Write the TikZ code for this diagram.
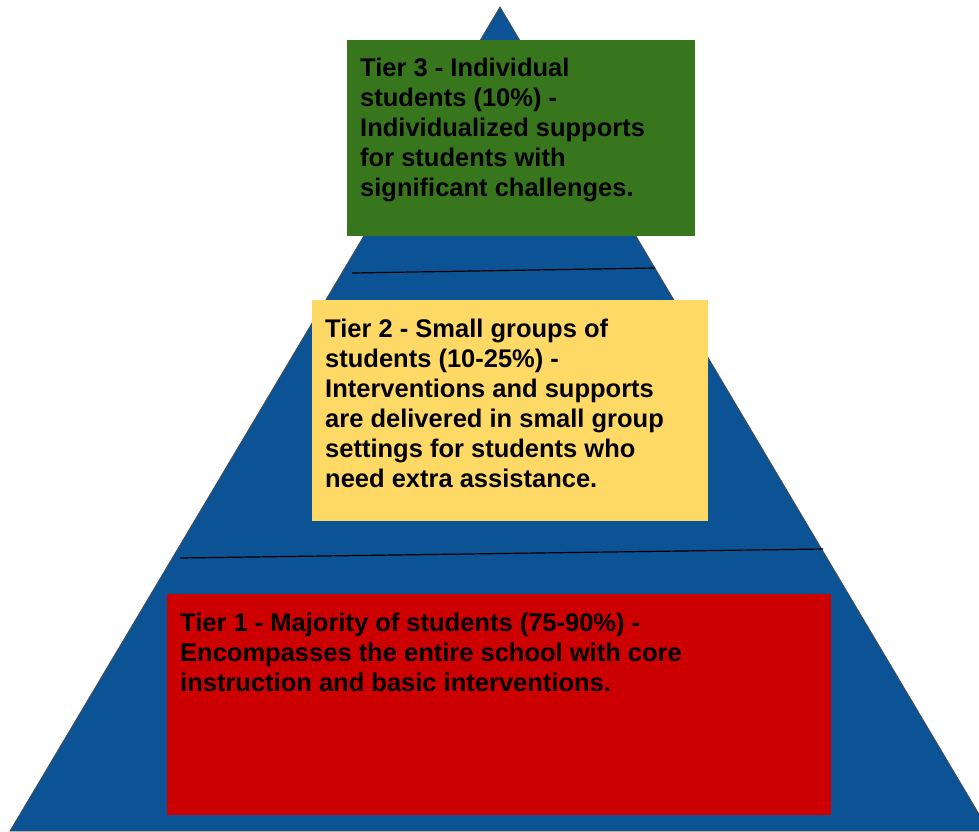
\documentclass[tikz,border=0pt]{standalone}
\usepackage{fontspec}
\setmainfont{Liberation Sans}
\usetikzlibrary{calc, positioning}

\definecolor{pyrblue}{HTML}{0B5394}
\definecolor{tiergreen}{HTML}{38761D}
\definecolor{tieryellow}{HTML}{FFD966}
\definecolor{tierred}{HTML}{CC0000}

\begin{document}
\begin{tikzpicture}[
    x=1pt, y=-1pt,
    tierbox/.style={rectangle, inner sep=0pt, anchor=north west},
    tiertext/.style={inner sep=0pt, align=left,
        font=\bfseries\fontsize{25.5}{30}\selectfont}
]
\useasboundingbox (0,0) rectangle (979,831);

% Pyramid ----------------------------------------------------

\coordinate (apex) at (500,7);
\coordinate (baseL) at (10,831);
\coordinate (baseR) at (989,831);
\filldraw[fill=pyrblue, draw=black!70, line width=0.8pt]
    (apex) -- (baseL) -- (baseR) -- cycle;

\coordinate (cutAL) at (352,273);
\coordinate (cutAR) at (655,268);
\coordinate (cutBL) at (180,558);
\coordinate (cutBR) at (823,549);
\draw[line width=1.2pt] (cutAL) -- (cutAR);
\draw[line width=1.2pt] (cutBL) -- (cutBR);

% Boxes ------------------------------------------------------

\node[tierbox, fill=tiergreen, minimum width=348pt, minimum height=196pt] (box3) at (347,40) {};
\node[tierbox, fill=tieryellow, minimum width=396pt, minimum height=221pt] (box2) at (312,300) {};
\node[tierbox, fill=tierred, minimum width=664pt, minimum height=221pt] (box1) at (167,594) {};

% Texts ------------------------------------------------------

\node[tiertext, below right=18pt and 13pt of box3.north west] (text3)
    {Tier 3 - Individual\\students (10\%) -\\Individualized supports\\for students with\\significant challenges.};
\node[tiertext, below right=19pt and 13pt of box2.north west] (text2)
    {Tier 2 - Small groups of\\students (10-25\%) -\\Interventions and supports\\are delivered in small group\\settings for students who\\need extra assistance.};
\node[tiertext, below right=19pt and 13pt of box1.north west] (text1)
    {Tier 1 - Majority of students (75-90\%) -\\Encompasses the entire school with core\\instruction and basic interventions.};

\end{tikzpicture}
\end{document}
